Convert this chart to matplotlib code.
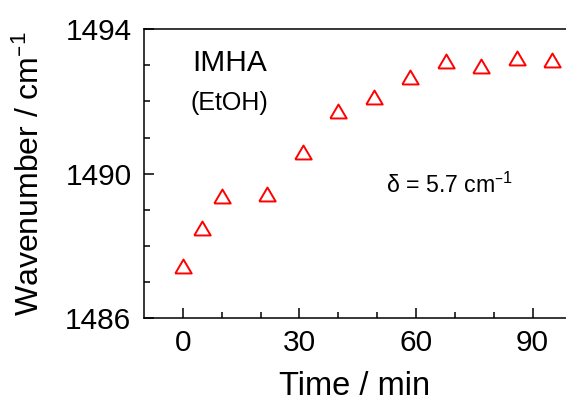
import matplotlib
matplotlib.use('Agg')
import matplotlib.pyplot as plt

# time (min) and peak position (cm-1), IMHA in EtOH
time = [0, 5, 10, 21.7, 31, 40, 49.2, 58.4, 67.6, 76.8, 86, 95]
wavenumber = [1487.44, 1488.5, 1489.37, 1489.45, 1490.6, 1491.73,
              1492.13, 1492.68, 1493.12, 1492.97, 1493.2, 1493.15]

xticks = [0, 30, 60, 90]
yticks = [1486, 1490, 1494]

plt.rcParams['font.family'] = ['Liberation Sans', 'DejaVu Sans']
plt.rcParams['mathtext.default'] = 'regular'

fig = plt.figure(figsize=(5.66, 4.03), dpi=100)
ax = fig.add_axes([0.2544, 0.2109, 0.7456, 0.7164])

#flattened triangle marker like the original
tri = [(-1, -0.85), (1, -0.85), (0, 0.85), (-1, -0.85)]
ax.plot(time, wavenumber, linestyle='none', marker=tri, markersize=11.8,
        markerfacecolor='none', markeredgecolor='#ff0000', markeredgewidth=1.4)

ax.set_xlim(-10, 98.6)
ax.set_ylim(1486, 1494)
ax.set_xticks(xticks)
ax.set_xticks(range(10, 100, 10), minor=True)
ax.set_yticks(yticks)
ax.set_yticks([1487, 1488, 1489, 1491, 1492, 1493], minor=True)

ax.spines['right'].set_visible(False)
for s in ['left', 'bottom', 'top']:
    ax.spines[s].set_linewidth(1.1)

ax.tick_params(which='major', direction='in', length=7, width=1.1,
               labelsize=21.5, pad=8)
ax.tick_params(which='minor', direction='in', length=4, width=1.1)
ax.tick_params(axis='y', which='both', pad=9)

ax.set_xlabel('Time / min', fontsize=23.5, labelpad=10)
ax.set_ylabel('Wavenumber / cm$^{\u2013 1}$', fontsize=23, labelpad=14)

ax.text(12, 1493.07, 'IMHA', fontsize=21.5, ha='center', va='center')
ax.text(12, 1491.95, '(EtOH)', fontsize=18, ha='center', va='center')
ax.text(68.7, 1489.68, '\u03b4 = 5.7 cm$^{\u2013 1}$', fontsize=16.7,
        ha='center', va='center')

plt.savefig('out.png', dpi=100)
